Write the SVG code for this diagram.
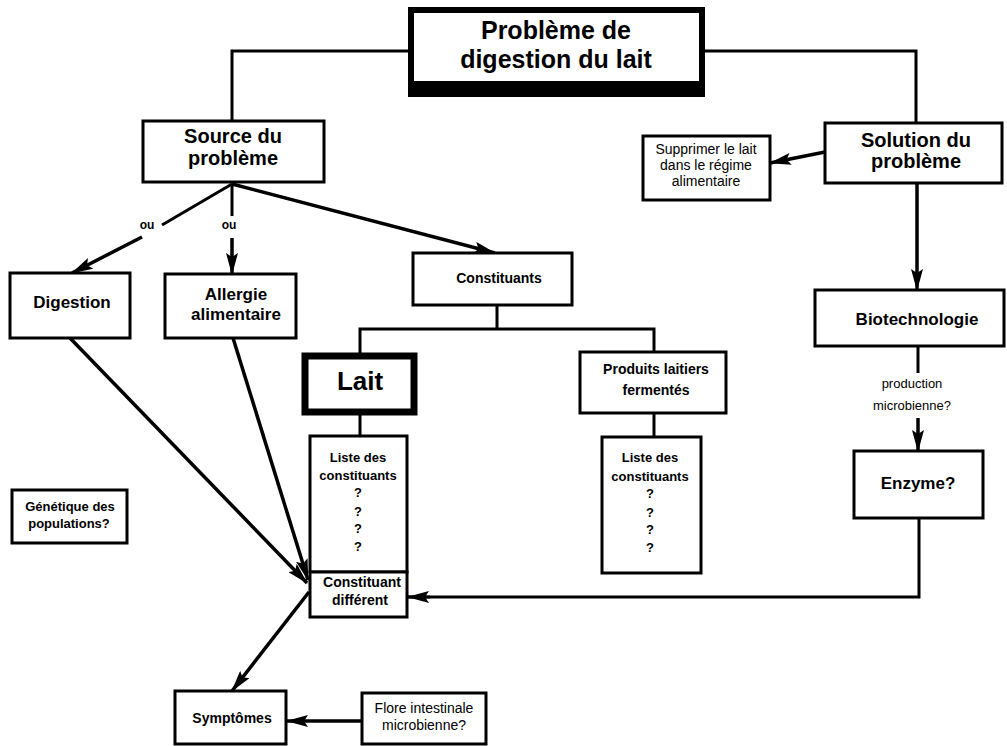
<svg xmlns="http://www.w3.org/2000/svg" width="1007" height="746" viewBox="0 0 1007 746">
<style>
.box{fill:#fff;stroke:#000;stroke-width:3}
.ln{fill:none;stroke:#000;stroke-width:3}
.arr{fill:none;stroke:#000;stroke-width:3.5;marker-end:url(#ah)}
text{font-family:"Liberation Sans",Arial,sans-serif;text-anchor:middle;fill:#000}
.b{font-weight:bold}
.t20{font-size:20px}
.t17{font-size:17px}
.t14{font-size:14px}
.t13{font-size:13px}
</style>
<defs>
<marker id="ah" viewBox="0 0 22 12" refX="21" refY="6" markerWidth="22" markerHeight="12" markerUnits="userSpaceOnUse" orient="auto">
<path d="M0,0 L22,6 L0,12 L4,6 z" fill="#000"/>
</marker>
</defs>
<rect width="1007" height="746" fill="#fff"/>
<g id="connectors">
<polyline class="ln" points="410,51 232,51 232,121"/>
<polyline class="ln" points="704,51 916,51 916,123"/>
<line class="arr" x1="825" y1="152" x2="770" y2="163"/>
<line class="arr" x1="917" y1="183" x2="917" y2="290"/>
<line class="ln" x1="918" y1="346" x2="918" y2="373"/>
<line class="arr" x1="918" y1="418" x2="918" y2="451"/>
<polyline class="ln" points="919,518 919,597 430,597"/>
<line class="arr" x1="430" y1="597" x2="408" y2="597"/>
<line class="ln" x1="232" y1="184" x2="162" y2="225"/>
<line class="arr" x1="142" y1="237" x2="72" y2="273"/>
<line class="ln" x1="232" y1="184" x2="232" y2="216"/>
<line class="arr" x1="232" y1="238" x2="232" y2="274"/>
<line class="arr" x1="232" y1="184" x2="495" y2="253"/>
<line class="ln" x1="497" y1="305" x2="497" y2="329"/>
<polyline class="ln" points="360,353 360,329 654,329 654,352"/>
<line class="ln" x1="360" y1="415" x2="360" y2="436"/>
<line class="ln" x1="654" y1="413" x2="654" y2="437"/>
<line class="arr" x1="70" y1="338" x2="307" y2="583"/>
<line class="arr" x1="233" y1="338" x2="308" y2="580"/>
<line class="arr" x1="309" y1="592" x2="232" y2="691"/>
<line class="arr" x1="362" y1="721" x2="287" y2="721"/>
</g>
<g id="title">
<rect x="408" y="7" width="297" height="90" fill="#000"/>
<rect x="414" y="13" width="285" height="68" fill="#fff"/>
<text class="b" x="556" y="39" font-size="25">Problème de</text>
<text class="b" x="556" y="68" font-size="25">digestion du lait</text>
</g>
<g id="source">
<rect class="box" x="143" y="121" width="181" height="61"/>
<text class="b t20" x="233" y="143">Source du</text>
<text class="b t20" x="233" y="165">problème</text>
</g>
<g id="solution">
<rect class="box" x="825" y="123" width="177" height="60"/>
<text class="b t20" x="916" y="147">Solution du</text>
<text class="b t20" x="916" y="168">problème</text>
</g>
<g id="supprimer">
<rect class="box" x="643" y="136" width="127" height="64"/>
<text class="t14" x="706" y="154">Supprimer le lait</text>
<text class="t14" x="706" y="170">dans le régime</text>
<text class="t14" x="706" y="186">alimentaire</text>
</g>
<g id="biotechnologie">
<rect class="box" x="815" y="290" width="189" height="56"/>
<text class="b t17" x="917" y="325">Biotechnologie</text>
</g>
<g id="production-label">
<text class="t13" x="912" y="388">production</text>
<text class="t13" x="912" y="410">microbienne?</text>
</g>
<g id="enzyme">
<rect class="box" x="854" y="451" width="129" height="67"/>
<text class="b t17" x="918" y="489">Enzyme?</text>
</g>
<g id="ou-labels">
<text class="b" x="147" y="229" font-size="12">ou</text>
<text class="b" x="229" y="229" font-size="12">ou</text>
</g>
<g id="digestion">
<rect class="box" x="10" y="273" width="120" height="65"/>
<text class="b t17" x="72" y="308">Digestion</text>
</g>
<g id="allergie">
<rect class="box" x="165" y="274" width="131" height="64"/>
<text class="b t17" x="236" y="300">Allergie</text>
<text class="b t17" x="236" y="320">alimentaire</text>
</g>
<g id="constituants">
<rect class="box" x="413" y="253" width="159" height="52"/>
<text class="b t14" x="499" y="283">Constituants</text>
</g>
<g id="lait">
<rect x="305" y="356" width="109" height="56" fill="#fff" stroke="#000" stroke-width="7"/>
<text class="b" x="360" y="390" font-size="26">Lait</text>
</g>
<g id="produits">
<rect class="box" x="580" y="352" width="146" height="61"/>
<text class="b t14" x="656" y="374">Produits laitiers</text>
<text class="b t14" x="656" y="395">fermentés</text>
</g>
<g id="liste-lait">
<rect class="box" x="310" y="436" width="97" height="136"/>
<text class="b t13" x="358" y="462">Liste des</text>
<text class="b t13" x="358" y="480">constituants</text>
<text class="b t13" x="358" y="497">?</text>
<text class="b t13" x="358" y="516">?</text>
<text class="b t13" x="358" y="533">?</text>
<text class="b t13" x="358" y="551">?</text>
</g>
<g id="liste-produits">
<rect class="box" x="602" y="437" width="99" height="136"/>
<text class="b t13" x="650" y="462">Liste des</text>
<text class="b t13" x="650" y="481">constituants</text>
<text class="b t13" x="650" y="498">?</text>
<text class="b t13" x="650" y="517">?</text>
<text class="b t13" x="650" y="534">?</text>
<text class="b t13" x="650" y="552">?</text>
</g>
<g id="constituant-different">
<rect class="box" x="310" y="572" width="97" height="45"/>
<text class="b t14" x="362" y="587">Constituant</text>
<text class="b t14" x="360" y="605">différent</text>
</g>
<g id="genetique">
<rect class="box" x="12" y="490" width="115" height="53"/>
<text class="b t13" x="70" y="511">Génétique des</text>
<text class="b t13" x="69" y="528">populations?</text>
</g>
<g id="symptomes">
<rect class="box" x="175" y="691" width="111" height="53"/>
<text class="b t14" x="232" y="723">Symptômes</text>
</g>
<g id="flore">
<rect class="box" x="362" y="693" width="124" height="51"/>
<text class="t14" x="424" y="713">Flore intestinale</text>
<text class="t14" x="424" y="730">microbienne?</text>
</g>
</svg>
